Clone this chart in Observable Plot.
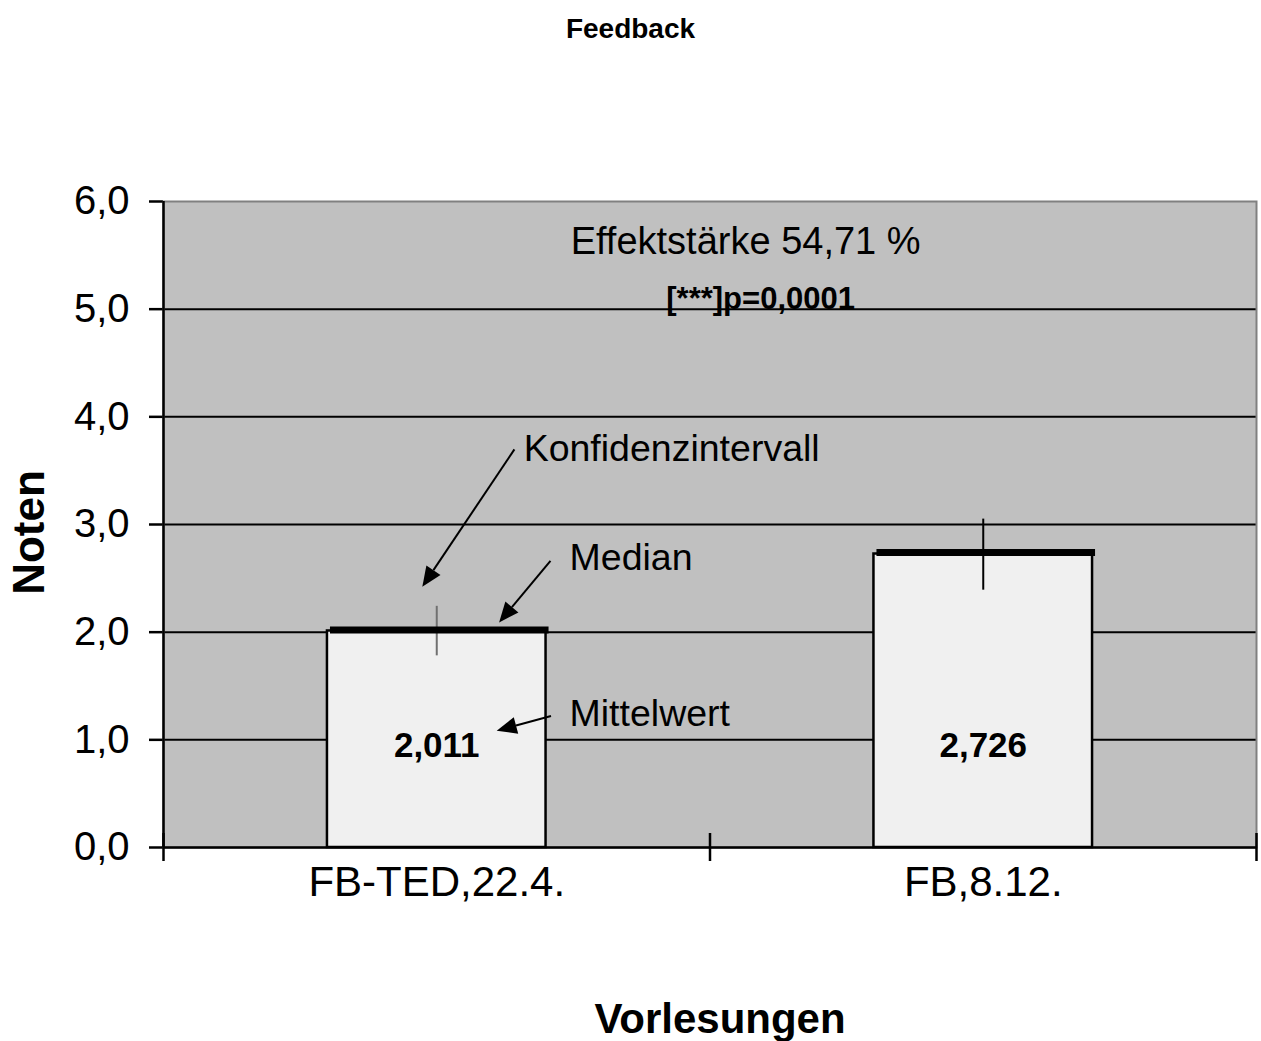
<!DOCTYPE html>
<html>
<head>
<meta charset="utf-8">
<script src="https://cdn.jsdelivr.net/npm/d3@7"></script>
<script src="https://cdn.jsdelivr.net/npm/@observablehq/plot@0.6"></script>
<style>
  html, body { margin: 0; padding: 0; background: #ffffff; }
  body { width: 1261px; font-family: "Liberation Sans", Arial, sans-serif; }
  #title { height: 60px; line-height: 58px; text-align: center; font-weight: bold; font-size: 28px; color: #000; }
  svg [aria-label^="y-axis"] line, svg [aria-label^="y-axis"] path { stroke-width: 2.5px; }
</style>
</head>
<body>
<div id="title">Feedback</div>
<div id="chart"></div>
<script>
// ---- data ----
const categories = ["FB-TED,22.4.", "FB,8.12."];
const means      = [2.011, 2.726];
const medians    = [2.02, 2.74];
const ciLow      = [1.78, 2.39];
const ciHigh     = [2.24, 3.05];
const yTicks     = [0, 1, 2, 3, 4, 5, 6];
const gridValues = [1, 2, 3, 4, 5];
const effectText = "Effektstärke 54,71 %";
const pText      = "[***]p=0,0001";
const noteLabels = ["Konfidenzintervall", "Median", "Mittelwert"];

// ---- layout (annotation placement in data units) ----
const barPad = 0.3; // bar occupies [i+0.3, i+0.7]
const noteAnchors = [
  {x: 0.659, y: 3.70},
  {x: 0.743, y: 2.69},
  {x: 0.743, y: 1.24}
];
const arrowLayout = [
  {x1: 0.643, y1: 3.693, x2: 0.4745, y2: 2.417},
  {x1: 0.709, y1: 2.658, x2: 0.615, y2: 2.086},
  {x1: 0.710, y1: 1.216, x2: 0.6106, y2: 1.080}
];

const comma = (v, n) => v.toFixed(n).replace(".", ",");
const rows = categories.map((c, i) => ({
  cat: c, i, mean: means[i], median: medians[i], lo: ciLow[i], hi: ciHigh[i]
}));
const notes = noteLabels.map((t, k) => ({text: t, ...noteAnchors[k]}));

function arrowsMark() {
  const args = Array.from(arguments);
  const sc = args.find(a => a && typeof a.x === "function" && typeof a.y === "function");
  const g = d3.create("svg:g").attr("aria-label", "arrows");
  if (!sc) return g.node();
  const L = 20, W = 8.5;
  for (const a of arrowLayout) {
    const sx = sc.x(a.x1), sy = sc.y(a.y1), tx = sc.x(a.x2), ty = sc.y(a.y2);
    const dx = tx - sx, dy = ty - sy, len = Math.hypot(dx, dy);
    const ux = dx / len, uy = dy / len;
    const bx = tx - ux * L, by = ty - uy * L;
    g.append("line").attr("x1", sx).attr("y1", sy).attr("x2", bx).attr("y2", by)
      .attr("stroke", "black").attr("stroke-width", 2);
    g.append("path")
      .attr("d", `M${tx},${ty}L${bx - uy * W},${by + ux * W}L${bx + uy * W},${by - ux * W}Z`)
      .attr("fill", "black");
  }
  return g.node();
}

const chart = Plot.plot({
  width: 1261,
  height: 981,
  marginTop: 141,
  marginBottom: 194,
  marginLeft: 163,
  marginRight: 5,
  style: {fontFamily: "'Liberation Sans', Arial, sans-serif", fontSize: "40px", color: "black", background: "white"},
  x: {domain: [0, 2], axis: null},
  y: {domain: [0, 6], ticks: yTicks, tickFormat: d => comma(d, 1), tickSize: 14, tickPadding: 20, label: null},
  marks: [
    Plot.frame({fill: "#c0c0c0"}),
    Plot.ruleY(gridValues, {stroke: "black", strokeWidth: 2}),
    Plot.frame({stroke: "#808080", strokeWidth: 2}),
    Plot.rect(rows, {x1: d => d.i + barPad, x2: d => d.i + 1 - barPad, y1: 0, y2: "mean",
      fill: "#f0f0f0", stroke: "black", strokeWidth: 2.5}),
    Plot.ruleX(rows.filter(d => d.i === 0), {x: d => d.i + 0.5, y1: "lo", y2: "hi", stroke: "#707070", strokeWidth: 2}),
    Plot.ruleX(rows.filter(d => d.i === 1), {x: d => d.i + 0.5, y1: "lo", y2: "hi", stroke: "black", strokeWidth: 2}),
    Plot.ruleY(rows, {y: "median", x1: d => d.i + barPad, x2: d => d.i + 1 - barPad, dx: 3, stroke: "black", strokeWidth: 7}),
    Plot.ruleX([0], {stroke: "black", strokeWidth: 2.5}),
    Plot.ruleY([0], {stroke: "black", strokeWidth: 2.5}),
    Plot.ruleX([0, 1, 2], {y1: 0, y2: 0, insetTop: -14, insetBottom: -14, stroke: "black", strokeWidth: 2.5}),
    Plot.text(rows, {x: d => d.i + 0.5, y: 0, dy: -102, text: d => comma(d.mean, 3),
      fontSize: 35, fontWeight: "bold", fill: "black"}),
    Plot.text(rows, {x: d => d.i + 0.5, y: 0, dy: 35, text: "cat", fontSize: 42, fill: "black"}),
    Plot.text(notes, {x: "x", y: "y", text: "text", textAnchor: "start", fontSize: 37.5, fill: "black"}),
    Plot.text([effectText], {x: 0.745, y: 5.63, text: d => d, textAnchor: "start", fontSize: 38, fill: "black"}),
    Plot.text([pText], {x: 0.92, y: 5.09, text: d => d, textAnchor: "start", fontSize: 31, fontWeight: "bold", fill: "black"}),
    Plot.text(["Vorlesungen"], {frameAnchor: "bottom", textAnchor: "middle", lineAnchor: "middle", dx: 10, dy: 172,
      text: d => d, fontSize: 42, fontWeight: "bold", fill: "black"}),
    Plot.text(["Noten"], {frameAnchor: "left", textAnchor: "middle", lineAnchor: "middle", dx: -134, dy: 8, rotate: -90,
      text: d => d, fontSize: 44, fontWeight: "bold", fill: "black"}),
    arrowsMark
  ]
});
document.getElementById("chart").appendChild(chart);
</script>
</body>
</html>
